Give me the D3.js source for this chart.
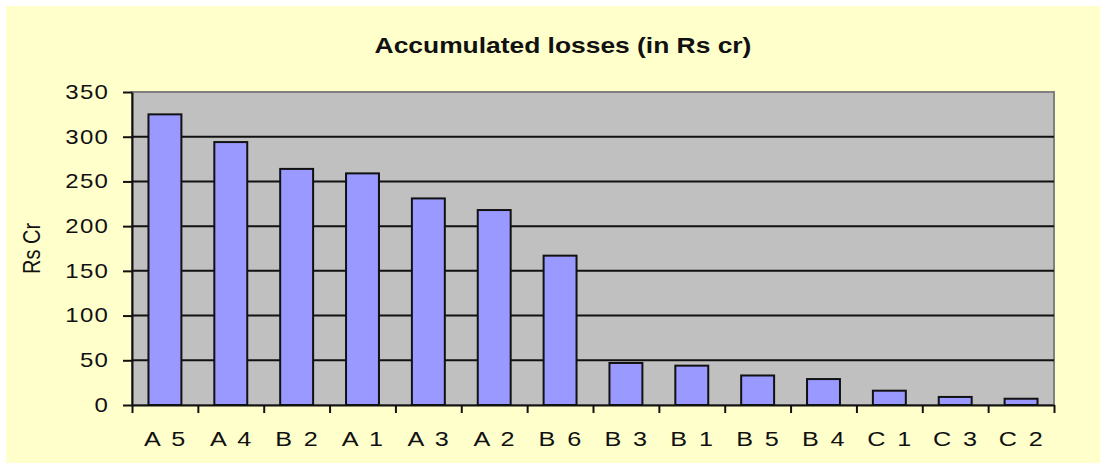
<!DOCTYPE html>
<html>
<head>
<meta charset="utf-8">
<script src="https://cdn.jsdelivr.net/npm/d3@7"></script>
<style>
  body { margin: 0; background: #fff; }
  svg { display: block; font-family: "Liberation Sans", Arial, sans-serif; }
</style>
</head>
<body>
<svg id="chart" width="1100" height="463"></svg>
<script>
// data
var categories = ["A 5", "A 4", "B 2", "A 1", "A 3", "A 2", "B 6", "B 3", "B 1", "B 5", "B 4", "C 1", "C 3", "C 2"];
var losses = [325, 294, 264, 259, 231, 218, 167, 47, 44, 33, 29, 16, 9, 7];
var yTicks = [0, 50, 100, 150, 200, 250, 300, 350];

var svg = d3.select("#chart"),
    margin = {top: 92, right: 46, bottom: 58, left: 132},
    width = +svg.attr("width") - margin.left - margin.right,
    height = +svg.attr("height") - margin.top - margin.bottom,
    stretch = 1.2;

// chart area background
svg.append("rect")
    .attr("x", 6).attr("y", 6)
    .attr("width", 1094).attr("height", 457)
    .attr("fill", "#ffffcc");

svg.append("text")
    .attr("transform", "translate(563,53) scale(" + stretch + ",1)")
    .attr("text-anchor", "middle")
    .attr("font-size", 22)
    .attr("font-weight", "bold")
    .attr("fill", "#111")
    .text("Accumulated losses (in Rs cr)");

var g = svg.append("g").attr("transform", "translate(" + margin.left + "," + margin.top + ")");

var x = d3.scaleBand().domain(categories).range([0, width]).paddingInner(0.5).paddingOuter(0.25);
var edges = d3.scaleLinear().domain([0, categories.length]).range([0, width]);
var y = d3.scaleLinear().domain([0, 350]).range([height, 0]);

// plot area
g.append("rect")
    .attr("width", width).attr("height", height)
    .attr("fill", "#c0c0c0")
    .attr("stroke", "#808080")
    .attr("stroke-width", 2);

g.selectAll(".grid")
    .data(yTicks.filter(function (d) { return d > 0 && d < 350; }))
    .enter().append("line")
    .attr("class", "grid")
    .attr("x1", 0).attr("x2", width)
    .attr("y1", function (d) { return y(d); })
    .attr("y2", function (d) { return y(d); })
    .attr("stroke", "#111")
    .attr("stroke-width", 2);

g.selectAll(".bar")
    .data(losses)
    .enter().append("rect")
    .attr("class", "bar")
    .attr("x", function (d, i) { return x(categories[i]); })
    .attr("y", function (d) { return y(d); })
    .attr("width", x.bandwidth())
    .attr("height", function (d) { return height - y(d); })
    .attr("fill", "#9999ff")
    .attr("stroke", "#111")
    .attr("stroke-width", 2);

// y axis
var yAxis = g.append("g")
    .call(d3.axisLeft(y).tickValues(yTicks).tickSize(9).tickSizeOuter(0));
yAxis.select(".domain").attr("stroke", "#111").attr("stroke-width", 2);
yAxis.selectAll(".tick line").attr("stroke", "#111").attr("stroke-width", 2);
yAxis.selectAll("text")
    .attr("x", 0)
    .attr("font-size", 20)
    .attr("letter-spacing", 1)
    .attr("fill", "#111")
    .attr("transform", "translate(-23,0) scale(" + stretch + ",1)");

// x axis: ticks on category edges, labels centred in bands
var xTicks = g.append("g")
    .attr("transform", "translate(0," + height + ")")
    .call(d3.axisBottom(edges).ticks(categories.length).tickSize(8).tickSizeOuter(0).tickFormat(""));
xTicks.select(".domain").attr("stroke", "#111").attr("stroke-width", 2);
xTicks.selectAll(".tick line").attr("stroke", "#111").attr("stroke-width", 2);

var xLabels = g.append("g")
    .attr("transform", "translate(0," + height + ")")
    .call(d3.axisBottom(x).tickSize(0));
xLabels.select(".domain").remove();
xLabels.selectAll("text")
    .attr("y", 41)
    .attr("dy", null)
    .attr("font-size", 21)
    .attr("letter-spacing", 2)
    .attr("fill", "#111")
    .attr("transform", "translate(1,0) scale(" + stretch + ",1)");

svg.append("text")
    .attr("transform", "translate(40," + (margin.top + height / 2) + ") rotate(-90) scale(1," + stretch + ")")
    .attr("text-anchor", "middle")
    .attr("font-size", 20)
    .attr("fill", "#111")
    .text("Rs Cr");
</script>
</body>
</html>
